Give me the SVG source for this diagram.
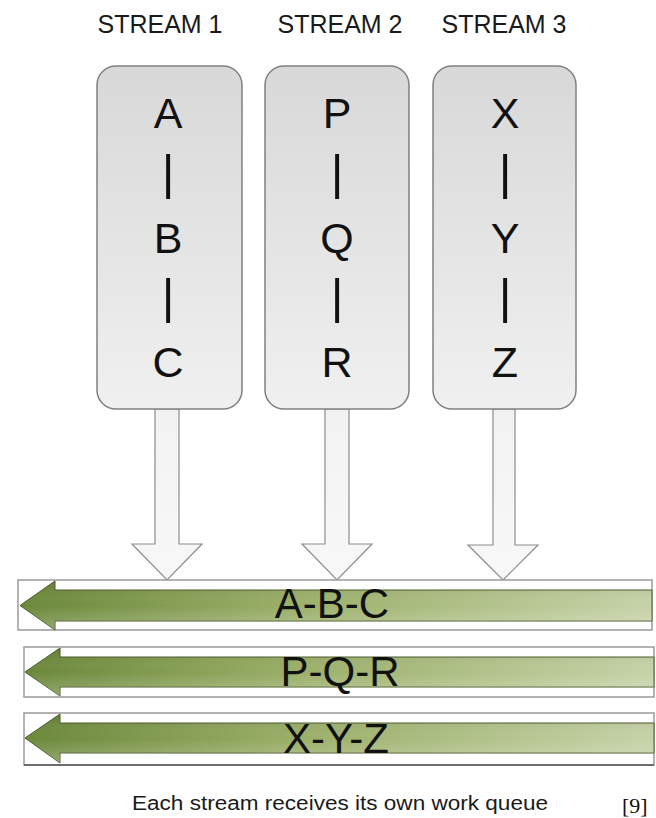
<svg xmlns="http://www.w3.org/2000/svg" width="656" height="818" viewBox="0 0 656 818">
  <style>
    .hdr { font-family: "Liberation Sans", Arial, sans-serif; font-size: 25px; fill: #1a1a1a; text-anchor: middle; }
    .ltr { font-family: "Liberation Sans", Arial, sans-serif; font-size: 43px; fill: #111; text-anchor: middle; }
    .bar { font-family: "Liberation Sans", Arial, sans-serif; font-size: 49px; fill: #111; text-anchor: middle; }
    .qlbl { font-family: "Liberation Sans", Arial, sans-serif; font-size: 42px; fill: #111; text-anchor: middle; }
    .cap { font-family: "Liberation Sans", Arial, sans-serif; font-size: 20px; fill: #1a1a1a; }
    .ref { font-family: "Liberation Serif", "Times New Roman", serif; font-size: 22px; fill: #111; }
    .box { fill: url(#boxFill); stroke: #808080; stroke-width: 1.5; }
    .down { fill: url(#downFill); stroke: #8c8c8c; stroke-width: 1.2; }
    .lane { fill: #ffffff; stroke: #9a9a9a; stroke-width: 1.5; }
    .flow { fill: url(#greenFill); stroke: #4a5a2a; stroke-width: 1; }
    .shine { fill: url(#greenShine); }
  </style>
  <defs>
    <linearGradient id="boxFill" x1="0" y1="0" x2="0" y2="1">
      <stop offset="0" stop-color="#d8d8d8"/>
      <stop offset="1" stop-color="#f0f0f0"/>
    </linearGradient>
    <linearGradient id="downFill" x1="0" y1="0" x2="0" y2="1">
      <stop offset="0" stop-color="#f2f2f2"/>
      <stop offset="1" stop-color="#f8f8f8"/>
    </linearGradient>
    <linearGradient id="greenFill" x1="0" y1="0" x2="1" y2="0">
      <stop offset="0" stop-color="#6b883a"/>
      <stop offset="0.45" stop-color="#9cb06a"/>
      <stop offset="1" stop-color="#c6d2a8"/>
    </linearGradient>
    <linearGradient id="greenShine" x1="0" y1="0" x2="0" y2="1">
      <stop offset="0" stop-color="#000000" stop-opacity="0.12"/>
      <stop offset="0.5" stop-color="#ffffff" stop-opacity="0"/>
      <stop offset="1" stop-color="#ffffff" stop-opacity="0.25"/>
    </linearGradient>
  </defs>

  <rect width="656" height="818" fill="#ffffff"/>

  <!-- column headings -->
  <g id="headings">
    <text class="hdr" x="160" y="33">STREAM 1</text>
    <text class="hdr" x="340" y="33">STREAM 2</text>
    <text class="hdr" x="504" y="33">STREAM 3</text>
  </g>

  <!-- connectors: stream boxes feed the work queues -->
  <g id="connectors">
    <polygon class="down" points="155,409 179,409 179,544 202,544 167,580 132,544 155,544"/>
    <polygon class="down" points="325,409 349,409 349,544 372,544 337,580 302,544 325,544"/>
    <polygon class="down" points="493,409 515,409 515,545 538,545 503,580 468,545 493,545"/>
  </g>

  <!-- stream 1 -->
  <g id="stream1">
    <rect class="box" x="97" y="66" width="145" height="343" rx="19"/>
    <text class="ltr" x="168" y="128">A</text>
    <text class="bar" x="168" y="189">|</text>
    <text class="ltr" x="168" y="253">B</text>
    <text class="bar" x="168" y="313">|</text>
    <text class="ltr" x="168" y="377">C</text>
  </g>

  <!-- stream 2 -->
  <g id="stream2">
    <rect class="box" x="265" y="66" width="144" height="343" rx="19"/>
    <text class="ltr" x="337" y="128">P</text>
    <text class="bar" x="337" y="189">|</text>
    <text class="ltr" x="337" y="253">Q</text>
    <text class="bar" x="337" y="313">|</text>
    <text class="ltr" x="337" y="377">R</text>
  </g>

  <!-- stream 3 -->
  <g id="stream3">
    <rect class="box" x="433" y="66" width="143" height="343" rx="19"/>
    <text class="ltr" x="505" y="128">X</text>
    <text class="bar" x="505" y="189">|</text>
    <text class="ltr" x="505" y="253">Y</text>
    <text class="bar" x="505" y="313">|</text>
    <text class="ltr" x="505" y="377">Z</text>
  </g>

  <!-- work queue 1 -->
  <g id="queue1">
    <rect class="lane" x="18" y="580" width="634" height="50"/>
    <polygon class="flow" points="20,605.5 55,581 55,590 652,590 652,621 55,621 55,630"/>
    <polygon class="shine" points="20,605.5 55,581 55,590 652,590 652,621 55,621 55,630"/>
    <text class="qlbl" x="332" y="618">A-B-C</text>
  </g>

  <!-- work queue 2 -->
  <g id="queue2">
    <rect class="lane" x="24" y="647" width="630" height="50"/>
    <polygon class="flow" points="25,672 60,648 60,657 654,657 654,687 60,687 60,696"/>
    <polygon class="shine" points="25,672 60,648 60,657 654,657 654,687 60,687 60,696"/>
    <text class="qlbl" x="340" y="686">P-Q-R</text>
  </g>

  <!-- work queue 3 -->
  <g id="queue3">
    <rect class="lane" x="24" y="713" width="630" height="52"/>
    <line x1="24" y1="765" x2="654" y2="765" stroke="#555" stroke-width="1.5"/>
    <polygon class="flow" points="25,738 60,714 60,723 654,723 654,753 60,753 60,763"/>
    <polygon class="shine" points="25,738 60,714 60,723 654,723 654,753 60,753 60,763"/>
    <text class="qlbl" x="336" y="753">X-Y-Z</text>
  </g>

  <!-- caption -->
  <g id="caption">
    <text class="cap" x="132" y="810" textLength="416" lengthAdjust="spacingAndGlyphs">Each stream receives its own work queue</text>
    <text class="ref" x="622" y="813">[9]</text>
  </g>
</svg>
